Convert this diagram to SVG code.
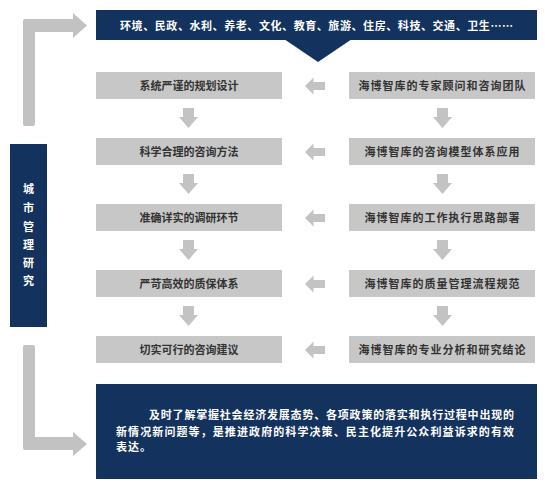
<svg xmlns="http://www.w3.org/2000/svg" width="545" height="490" viewBox="0 0 545 490">
<defs>
<style>
.navy{fill:#14325e}
.node{fill:#c7c7c7}
.arr{fill:#c3c3c3}
.big{fill:#c2c2c2}
text{font-family:"Noto Sans CJK SC","Noto Sans",sans-serif;font-weight:bold;font-size:11px}
.nt{fill:#333333;text-anchor:middle}
.rt{fill:#333333;text-anchor:middle;letter-spacing:1px}
.wt{fill:#ffffff}
</style>
<path id="down" d="M-5.5,0 H5.5 V9 H9.5 L0,20 L-9.5,9 H-5.5 Z"/>
<path id="left" d="M0,0 L8.5,-8.5 V-4 H20 V4 H8.5 V8.5 Z"/>
</defs>
<rect width="545" height="490" fill="#ffffff"/>

<g id="side-arrows">
<path class="big" d="M25,19 H73 V13 L87,25.5 L73,38 V32 H35 V124 Q35,126 33,126 H25 Q23,126 23,124 V21 Q23,19 25,19 Z"/>
<path class="big" d="M25,345 H33 Q35,345 35,347 V437 H73 V432 L87,444 L73,456 V450 H25 Q23,450 23,448 V347 Q23,345 25,345 Z"/>
</g>

<g id="top-banner">
<rect class="navy" x="96" y="10" width="441" height="30"/>
<polygon class="navy" points="284,39 352,39 318,62"/>
<text class="wt" x="120" y="29.5" textLength="393" lengthAdjust="spacing">环境、民政、水利、养老、文化、教育、旅游、住房、科技、交通、卫生……</text>
</g>

<g id="side-label">
<rect class="navy" x="10" y="144" width="37" height="183"/>
<text class="wt" x="28.5" text-anchor="middle"><tspan x="28.5" y="193">城</tspan><tspan x="28.5" y="212">市</tspan><tspan x="28.5" y="231">管</tspan><tspan x="28.5" y="249">理</tspan><tspan x="28.5" y="267">研</tspan><tspan x="28.5" y="285">究</tspan></text>
</g>

<g id="node-l1"><rect class="node" x="96" y="72" width="186" height="27"/><text class="nt" x="189" y="89.5">系统严谨的规划设计</text></g>
<g id="node-l2"><rect class="node" x="96" y="138" width="186" height="27"/><text class="nt" x="189" y="155.5">科学合理的咨询方法</text></g>
<g id="node-l3"><rect class="node" x="96" y="204" width="186" height="27"/><text class="nt" x="189" y="221.5">准确详实的调研环节</text></g>
<g id="node-l4"><rect class="node" x="96" y="270" width="186" height="27"/><text class="nt" x="189" y="287.5">严苛高效的质保体系</text></g>
<g id="node-l5"><rect class="node" x="96" y="336" width="186" height="27"/><text class="nt" x="189" y="353.5">切实可行的咨询建议</text></g>

<g id="node-r1"><rect class="node" x="349" y="72" width="186" height="27"/><text class="rt" x="442.5" y="89.5">海博智库的专家顾问和咨询团队</text></g>
<g id="node-r2"><rect class="node" x="349" y="138" width="186" height="27"/><text class="rt" x="442.5" y="155.5">海博智库的咨询模型体系应用</text></g>
<g id="node-r3"><rect class="node" x="349" y="204" width="186" height="27"/><text class="rt" x="442.5" y="221.5">海博智库的工作执行思路部署</text></g>
<g id="node-r4"><rect class="node" x="349" y="270" width="186" height="27"/><text class="rt" x="442.5" y="287.5">海博智库的质量管理流程规范</text></g>
<g id="node-r5"><rect class="node" x="349" y="336" width="186" height="27"/><text class="rt" x="442.5" y="353.5">海博智库的专业分析和研究结论</text></g>

<g id="connectors">
<use href="#down" class="arr" x="188.5" y="108"/>
<use href="#down" class="arr" x="188.5" y="174"/>
<use href="#down" class="arr" x="188.5" y="240"/>
<use href="#down" class="arr" x="188.5" y="306"/>
<use href="#down" class="arr" x="442.5" y="108"/>
<use href="#down" class="arr" x="442.5" y="174"/>
<use href="#down" class="arr" x="442.5" y="240"/>
<use href="#down" class="arr" x="442.5" y="306"/>
<use href="#left" class="arr" x="305" y="86"/>
<use href="#left" class="arr" x="305" y="152"/>
<use href="#left" class="arr" x="305" y="218"/>
<use href="#left" class="arr" x="305" y="284"/>
<use href="#left" class="arr" x="305" y="350"/>
</g>

<g id="bottom-box">
<rect class="navy" x="96" y="384" width="441" height="95"/>
<text class="wt" x="149" y="419" textLength="365" lengthAdjust="spacing">及时了解掌握社会经济发展态势、各项政策的落实和执行过程中出现的</text>
<text class="wt" x="116" y="436" textLength="398" lengthAdjust="spacing">新情况新问题等，是推进政府的科学决策、民主化提升公众利益诉求的有效</text>
<text class="wt" x="116" y="451" letter-spacing="1">表达。</text>
</g>
</svg>
